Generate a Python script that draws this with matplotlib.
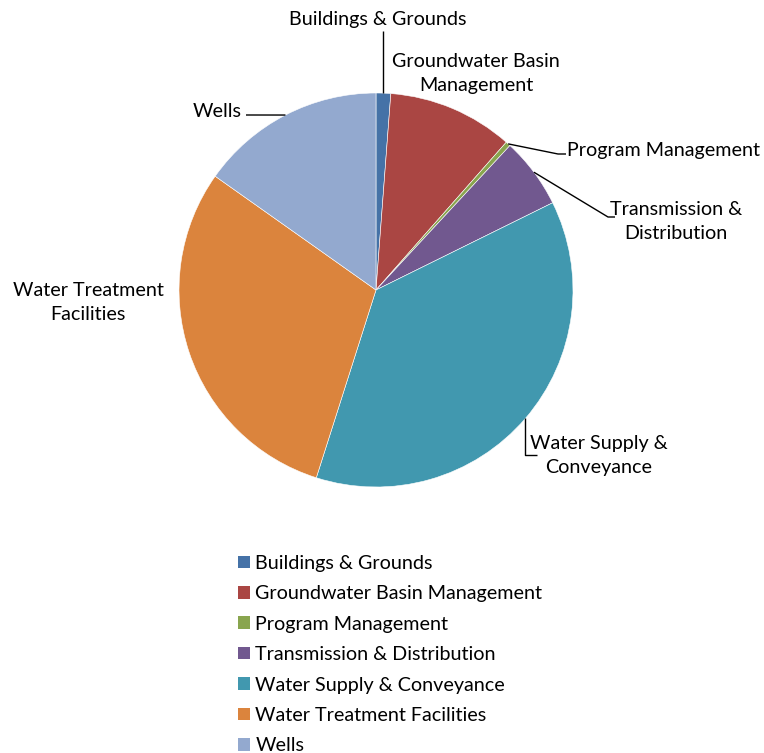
import numpy as np
import matplotlib.pyplot as plt
from matplotlib.patches import Patch

plt.rcParams['font.family'] = ['Lato', 'DejaVu Sans']

categories = [
    "Buildings & Grounds",
    "Groundwater Basin Management",
    "Program Management",
    "Transmission & Distribution",
    "Water Supply & Conveyance",
    "Water Treatment Facilities",
    "Wells",
]
shares = [1.2, 10.3, 0.4, 5.8, 37.2, 29.9, 15.2]
colors = ["#4572A7", "#AA4643", "#89A54E", "#71588F", "#4198AF", "#DB843D", "#93A9CF"]

W, H = 764, 753
fig = plt.figure(figsize=(W / 100, H / 100), dpi=100)
ax = fig.add_axes([0, 0, 1, 1])

cx, cy, r = 376, H - 290, 197
wedges, _ = ax.pie(shares, colors=colors, startangle=90, counterclock=False,
                   center=(cx, cy), radius=r, frame=True,
                   wedgeprops=dict(edgecolor="white", linewidth=0.4))
ax.set_xlim(0, W)
ax.set_ylim(0, H)
ax.axis("off")


def edge_point(w):
    ang = np.deg2rad((w.theta1 + w.theta2) / 2)
    return cx + r * np.cos(ang), cy + r * np.sin(ang)


fs = 14.2
lw = 1.0

# labels: (text, text x, text y, ha, leader bend points or None)
labels = [
    ("Buildings & Grounds", 378, 19, "center", [(None, 31)]),
    ("Groundwater Basin\nManagement", 476, 73, "center", None),
    ("Program Management", 567, 150, "left", [(558, 154), (566, 154)]),
    ("Transmission &\nDistribution", 676, 221, "center", [(608, 217), (615, 217)]),
    ("Water Supply &\nConveyance", 599, 455, "center", [(None, 455), (537, 455)]),
    ("Water Treatment\nFacilities", 88, 302, "center", None),
    ("Wells", 217, 111, "center", [(246, 115)]),
]

for w, (txt, tx, ty, ha, bends) in zip(wedges, labels):
    ax.text(tx, H - ty, txt, ha=ha, va="center", fontsize=fs, color="black",
            linespacing=1.5)
    if bends:
        px, py = edge_point(w)
        xs, ys = [px], [py]
        for bx, by in bends:
            xs.append(px if bx is None else bx)
            ys.append(H - by)
        ax.plot(xs, ys, color="black", lw=lw, solid_capstyle="butt")

handles = [Patch(facecolor=c, edgecolor="none") for c in colors]
fig.legend(handles, categories, loc="upper left",
           bbox_to_anchor=(228 / W, 1 - 545 / H), frameon=False,
           fontsize=fs, handlelength=0.6, handleheight=0.6,
           handletextpad=0.28, labelspacing=0.68, borderpad=0)

fig.savefig("out.png", dpi=100, facecolor="white")
